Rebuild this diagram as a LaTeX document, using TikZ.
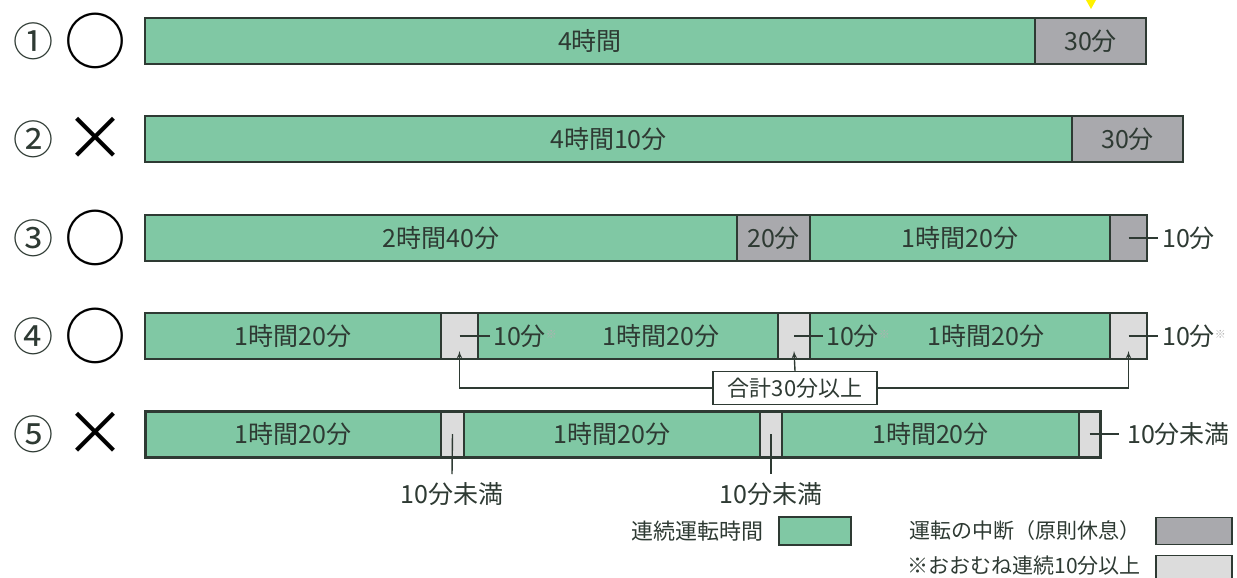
\documentclass[tikz,border=0pt]{standalone}
\usepackage{fontspec}
\setmainfont{Noto Sans CJK JP}
\usetikzlibrary{arrows}

\definecolor{drivegreen}{HTML}{80C8A4}
\definecolor{restgray}{HTML}{A9A9AD}
\definecolor{pausegray}{HTML}{DCDCDC}
\definecolor{ink}{HTML}{2E3A33}

\begin{document}
\begin{tikzpicture}[x=1pt,y=-1pt]

\tikzset{seg/.style = {draw=ink, line width=1.2pt, minimum height=46, inner sep=0, outer sep=0, anchor=west, text=ink, font=\fontsize{25}{25}\selectfont}}
\tikzset{drive/.style = {seg, fill=drivegreen}}
\tikzset{rest/.style = {seg, fill=restgray}}
\tikzset{pause/.style = {seg, fill=pausegray}}
\tikzset{frame/.style = {draw=ink, line width=2.4pt}}
\tikzset{tick/.style = {draw=ink, line width=1.4pt}}
\tikzset{lbl/.style = {text=ink, inner sep=0, font=\fontsize{25}{25}\selectfont}}
\tikzset{legend/.style = {text=ink, inner sep=0, anchor=east, font=\fontsize{21}{21}\selectfont}}
\tikzset{num/.style = {text=ink, inner sep=0, font=\fontsize{40}{40}\selectfont}}
\tikzset{verdict/.style = {text=black, inner sep=0, font=\fontsize{62}{62}\selectfont}}
\tikzset{edge/.style = {->,> = latex', line width=1.4pt, draw=ink}}
\newcommand{\kome}{\raisebox{7pt}{\fontsize{11}{11}\selectfont\color{gray!60}※}}

\useasboundingbox (0,0) rectangle (1237,578);
\fill[yellow] (1086,0) -- (1096,0) -- (1091,9) -- cycle;

%row labels
\node[num] (n1) at (33,41) {①};
\node[num] (n2) at (33,139) {②};
\node[num] (n3) at (33,238) {③};
\node[num] (n4) at (33,336) {④};
\node[num] (n5) at (33,434) {⑤};
\node[verdict] (v1) at (95,41) {○};
\node[verdict] (v2) at (95,139) {×};
\node[verdict] (v3) at (95,238) {○};
\node[verdict] (v4) at (95,336) {○};
\node[verdict] (v5) at (95,434) {×};

%row 1
\node[drive, minimum width=890] (r1a) at (145,41) {4時間};
\node[rest, minimum width=111] (r1b) at (r1a.east) {30分};
\draw[frame] (r1a.north west) rectangle (r1b.south east);

%row 2
\node[drive, minimum width=927] (r2a) at (145,139) {4時間10分};
\node[rest, minimum width=111] (r2b) at (r2a.east) {30分};
\draw[frame] (r2a.north west) rectangle (r2b.south east);

%row 3
\node[drive, minimum width=592] (r3a) at (145,238) {2時間40分};
\node[rest, minimum width=73] (r3b) at (r3a.east) {20分};
\node[drive, minimum width=300] (r3c) at (r3b.east) {1時間20分};
\node[rest, minimum width=37] (r3d) at (r3c.east) {};
\draw[frame] (r3a.north west) rectangle (r3d.south east);
\node[lbl, anchor=west] (t3) at (1162,238) {10分};
\draw[tick] (r3d.center) -- ([xshift=-4pt]t3.west);

%row 4
\node[drive, minimum width=296] (r4a) at (145,336) {1時間20分};
\node[pause, minimum width=37] (r4b) at (r4a.east) {};
\node[drive, minimum width=300] (r4c) at (r4b.east) {};
\node[pause, minimum width=32] (r4d) at (r4c.east) {};
\node[drive, minimum width=300] (r4e) at (r4d.east) {};
\node[pause, minimum width=37] (r4f) at (r4e.east) {};
\draw[frame] (r4a.north west) rectangle (r4f.south east);
\node[lbl] (l4c) at (661,336) {1時間20分};
\node[lbl] (l4e) at (986,336) {1時間20分};
\node[lbl, anchor=west] (t4b) at (493,336) {10分\kome};
\node[lbl, anchor=west] (t4d) at (826,336) {10分\kome};
\node[lbl, anchor=west] (t4f) at (1162,336) {10分\kome};
\draw[tick] (r4b.center) -- ([xshift=-3pt]t4b.west);
\draw[tick] (r4d.center) -- ([xshift=-3pt]t4d.west);
\draw[tick] (r4f.center) -- ([xshift=-4pt]t4f.west);

%total
\node[draw=ink, fill=white, line width=1.4pt, minimum width=164, minimum height=33, inner sep=0, text=ink, font=\fontsize{22}{22}\selectfont] (sum) at (795,388) {合計30分以上};
\draw[edge] (sum.north) -- ([yshift=8pt]r4d.south);
\draw[edge] (sum.west) -| ([yshift=8pt]r4b.south);
\draw[edge] (sum.east) -| ([yshift=8pt]r4f.south);

%row 5
\node[drive, minimum width=296] (r5a) at (145,434) {1時間20分};
\node[pause, minimum width=23] (r5b) at (r5a.east) {};
\node[drive, minimum width=296] (r5c) at (r5b.east) {1時間20分};
\node[pause, minimum width=22] (r5d) at (r5c.east) {};
\node[drive, minimum width=297] (r5e) at (r5d.east) {1時間20分};
\node[pause, minimum width=21] (r5f) at (r5e.east) {};
\draw[frame, line width=3pt] (r5a.north west) rectangle (r5f.south east);
\node[lbl] (b5b) at (452,494) {10分未満};
\node[lbl] (b5d) at (771,494) {10分未満};
\node[lbl, anchor=west] (t5f) at (1127,434) {10分未満};
\draw[tick] (r5b.center) -- ([yshift=8pt]b5b.north);
\draw[tick] (r5d.center) -- ([yshift=8pt]b5d.north);
\draw[tick] (r5f.center) -- ([xshift=-8pt]t5f.west);

%legend
\node[legend, font=\fontsize{22}{22}\selectfont] (k1) at (764,531) {連続運転時間};
\node[drive, line width=1.6pt, minimum width=72, minimum height=28] (k1box) at (779,531) {};
\node[legend] (k2) at (1141,531) {運転の中断（原則休息）};
\node[rest, line width=1.6pt, minimum width=76, minimum height=27] (k2box) at (1156,531) {};
\node[legend] (k3) at (1141,566) {※おおむね連続10分以上};
\node[pause, line width=1.6pt, minimum width=76, minimum height=27] (k3box) at (1156,569) {};

\end{tikzpicture}
\end{document}
